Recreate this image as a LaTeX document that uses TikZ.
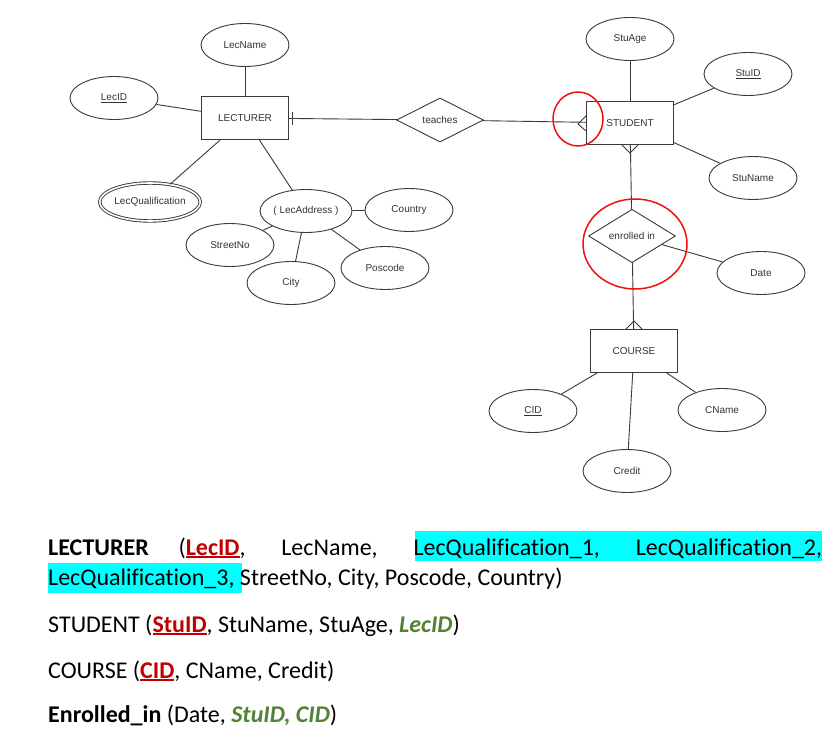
\documentclass[tikz,border=0pt]{standalone}
\usepackage{fontspec}
\setmainfont{Liberation Sans}
\newfontfamily\bodyfont[Ligatures=NoCommon]{Carlito}
\usetikzlibrary{shapes.geometric,calc}

\definecolor{linec}{HTML}{3A3A3A}
\definecolor{labelc}{HTML}{333333}
\definecolor{ringred}{HTML}{F01010}
\definecolor{hlcyan}{HTML}{00FFFF}
\definecolor{pkred}{HTML}{C00000}
\definecolor{fkgreen}{HTML}{538135}

% primary key: bold dark red with a heavier underline
\newcommand{\pkey}[1]{{\color{pkred}\bfseries
  \setbox0\hbox{#1}\rlap{\rule[-2.6pt]{\wd0}{1.6pt}}\box0}}
% foreign key: bold italic green
\newcommand{\fkey}[1]{{\color{fkgreen}\bfseries\itshape #1}}

\tikzset{
  erfont/.style={font=\fontsize{10}{12}\selectfont, text=labelc},
  entity/.style={erfont, draw=linec, line width=0.9, rectangle,
    minimum width=87, minimum height=43, inner sep=0},
  attr/.style={erfont, draw=linec, line width=0.9, ellipse,
    minimum width=88, minimum height=43, inner sep=0},
  multiattr/.style={attr, double=white, double distance=1.6,
    minimum width=85, minimum height=38},
  relation/.style={erfont, draw=linec, line width=0.9, diamond,
    minimum width=87, minimum height=44, inner sep=0},
  link/.style={draw=linec, line width=0.9},
  ring/.style={draw=ringred, line width=1.5, ellipse, inner sep=0},
  schema/.style={anchor=base west, inner sep=0,
    font=\bodyfont\fontsize{24}{28}\selectfont, text=black},
}

\begin{document}
\begin{tikzpicture}[x=1pt, y=-1pt]
\useasboundingbox (0,0) rectangle (838,730);
\fill[white] (0,0) rectangle (838,730);

% ---------- entities, relationships, attributes ----------
\node[entity] (lecturer) at (245,118) {LECTURER};
\node[attr] (lecname) at (245,45) {LecName};
\node[attr] (lecid) at (114,98) {\underline{LecID}};
\node[multiattr] (lecqual) at (150,202) {LecQualification};
\node[attr] (lecaddr) at (306,211) {( LecAddress )};
\node[attr] (country) at (409,210) {Country};
\node[attr] (streetno) at (230,245) {StreetNo};
\node[attr] (city) at (291,283) {City};
\node[attr] (poscode) at (385,268) {Poscode};

\node[relation] (teaches) at (440,120) {teaches};

\node[entity] (student) at (630,123) {STUDENT};
\node[attr] (stuage) at (630,39) {StuAge};
\node[attr] (stuid) at (748,74) {\underline{StuID}};
\node[attr] (stuname) at (753,178) {StuName};

\node[relation] (enrolled) at (632,236) {enrolled in};
\node[attr] (date) at (761,273) {Date};

\node[entity] (course) at (634,351) {COURSE};
\node[attr] (cid) at (533,411) {\underline{CID}};
\node[attr] (cname) at (722,410) {CName};
\node[attr] (credit) at (627,471) {Credit};

% ---------- attribute links ----------
\draw[link] (lecname) -- (lecturer);
\draw[link] (lecid) -- (lecturer);
\draw[link] (lecqual) -- (lecturer);
\draw[link] (lecaddr) -- (lecturer);
\draw[link] (lecaddr) -- (country);
\draw[link] (lecaddr) -- (streetno);
\draw[link] (lecaddr) -- (city);
\draw[link] (lecaddr) -- (poscode);
\draw[link] (stuage) -- (student);
\draw[link] (stuid) -- (student);
\draw[link] (stuname) -- (student);
\draw[link] (enrolled) -- (date);
\draw[link] (course) -- (cid);
\draw[link] (course) -- (cname);
\draw[link] (course) -- (credit);

% ---------- relationship links with cardinality marks ----------
\draw[link] (lecturer) -- (teaches);
\draw[link] ($(lecturer.east)+(3,-6)$) -- ($(lecturer.east)+(3,7)$);

\draw[link] (teaches) -- (student);
\draw[link] ($(student.west)+(0,-7)$) -- ($(student.west)+(-8,1)$)
            -- ($(student.west)+(0,8)$);

\draw[link] (student) -- (enrolled);
\draw[link] ($(student.south)+(-8,0)$) -- ($(student.south)+(0,8)$)
            -- ($(student.south)+(8,0)$);

\draw[link] (enrolled) -- (course);
\draw[link] ($(course.north)+(-8,0)$) -- ($(course.north)+(0,-8)$)
            -- ($(course.north)+(8,0)$);

% ---------- red markers ----------
\node[ring, minimum width=50, minimum height=54] (ringteach) at (578,119) {};
\node[ring, minimum width=104, minimum height=90] (ringenrol) at (635,244) {};

% ---------- relational schema ----------
\fill[hlcyan] (415,531) rectangle (822,561);
\fill[hlcyan] (48,563) rectangle (242,593);

\node[schema] (rowlec) at (48,555)
  {\makebox[774pt][s]{\textbf{LECTURER} (\pkey{LecID}, LecName, LecQualification\_1, LecQualification\_2,}};
\node[schema] (rowlecb) at (48,585)
  {LecQualification\_3, StreetNo, City, Poscode, Country)};
\node[schema] (rowstu) at (48,632)
  {STUDENT (\pkey{StuID}, StuName, StuAge, \fkey{LecID})};
\node[schema] (rowcourse) at (48,678)
  {COURSE (\pkey{CID}, CName, Credit)};
\node[schema] (rowenrol) at (48,722)
  {\textbf{Enrolled\_in} (Date, \fkey{StuID, CID})};
\end{tikzpicture}
\end{document}
